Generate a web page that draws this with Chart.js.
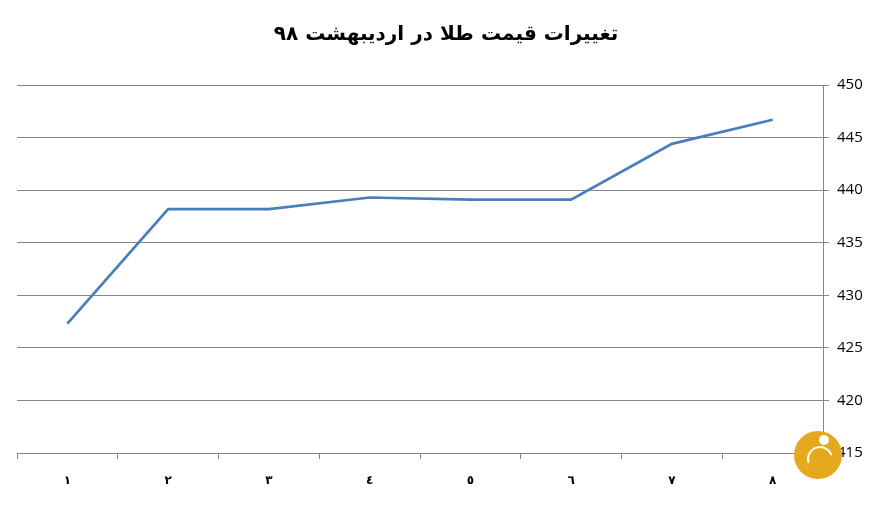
<!DOCTYPE html>
<html>
<head>
<meta charset="utf-8">
<script src="https://cdn.jsdelivr.net/npm/chart.js"></script>
<style>
  body { margin: 0; background: #fff; }
  #wrap { width: 875px; height: 508px; }
</style>
</head>
<body>
<div id="wrap"><canvas id="c" width="875" height="508"></canvas></div>
<script>
// data
const days = ['١', '٢', '٣', '٤', '٥', '٦', '٧', '٨'];
const goldPrice = [427.3, 438.2, 438.2, 439.3, 439.1, 439.1, 444.4, 446.7];
const yTicks = [415, 420, 425, 430, 435, 440, 445, 450];
const chartTitle = 'تغییرات قیمت طلا در اردیبهشت ۹۸';

// small watermark circle in the corner
const logoPlugin = {
    id: 'logo',
    afterDraw(chart) {
        const ctx = chart.ctx;
        const x = chart.chartArea.right - 5, y = chart.chartArea.bottom + 2;
        ctx.save();
        ctx.fillStyle = '#e6a91d';
        ctx.beginPath();
        ctx.arc(x, y, 24, 0, Math.PI * 2);
        ctx.fill();
        ctx.strokeStyle = '#fff';
        ctx.lineWidth = 2;
        ctx.beginPath();
        ctx.arc(x + 2, y + 4, 12, Math.PI * 0.9, Math.PI * 1.9);
        ctx.stroke();
        ctx.fillStyle = '#fff';
        ctx.beginPath();
        ctx.arc(x + 6, y - 15, 5, 0, Math.PI * 2);
        ctx.fill();
        ctx.restore();
    }
};

new Chart(document.getElementById('c'), {
    type: 'line',
    data: {
        labels: days,
        datasets: [{
            data: goldPrice,
            borderColor: '#4a7ebb',
            borderWidth: 2.7,
            pointRadius: 0,
            tension: 0,
            fill: false
        }]
    },
    options: {
        responsive: false,
        animation: false,
        layout: { padding: { left: 17, right: 0, top: 0, bottom: 0 } },
        plugins: {
            legend: { display: false },
            tooltip: { enabled: false },
            title: {
                display: true,
                text: chartTitle,
                color: '#000',
                font: { family: 'DejaVu Sans', size: 20, weight: 'bold', lineHeight: 1.2 },
                padding: { top: 23, bottom: 38 }
            }
        },
        scales: {
            x: {
                offset: true,
                grid: {
                    offset: true,
                    drawOnChartArea: false,
                    drawTicks: true,
                    tickLength: 6,
                    color: '#868686'
                },
                border: { color: '#868686', width: 1 },
                ticks: {
                    color: '#000',
                    padding: 15,
                    font: { family: 'DejaVu Sans', size: 12, weight: 'bold' }
                },
                afterFit(scale) { scale.height = 55; }
            },
            y: {
                position: 'right',
                min: 415,
                max: 450,
                afterBuildTicks(scale) { scale.ticks = yTicks.map(v => ({ value: v })); },
                grid: { color: '#868686', tickLength: 6 },
                border: { color: '#868686', width: 1 },
                ticks: {
                    color: '#000',
                    padding: 8,
                    font: { family: 'Open Sans, Liberation Sans', size: 15 }
                },
                afterFit(scale) { scale.width = 52; }
            }
        }
    },
    plugins: [logoPlugin]
});
</script>
</body>
</html>
